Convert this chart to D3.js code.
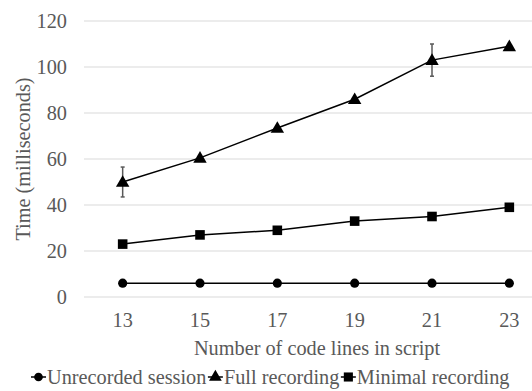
<!DOCTYPE html>
<html>
<head>
<meta charset="utf-8">
<script src="https://cdn.jsdelivr.net/npm/d3@7"></script>
<style>
  html, body { margin: 0; padding: 0; background: #fff; }
  svg { display: block; }
</style>
</head>
<body>
<div id="chart"></div>
<script>
// Script size (code lines) on the x axis
const categories = ["13", "15", "17", "19", "21", "23"];
// Mean time per run, milliseconds
const unrecorded = [6, 6, 6, 6, 6, 6];
const fullRecording = [50, 60.5, 73.5, 86, 103, 109];
const minimalRecording = [23, 27, 29, 33, 35, 39];
// Error bar half-widths for the full recording series (null = none drawn)
const fullError = [6.5, null, null, null, 7, null];
const yTicks = [0, 20, 40, 60, 80, 100, 120];

const W = 532, H = 391;
const gray = "#595959";
const FONT = "'Liberation Serif', 'Times New Roman', serif";
const FS = "20.3px";

const svg = d3.select("#chart").append("svg")
  .attr("width", W).attr("height", H);

const x = d3.scaleBand().domain(categories).range([84, 548]);
const y = d3.scaleLinear().domain([0, 120]).range([297, 21]);

const styleText = sel => sel.attr("fill", gray)
  .style("font-family", FONT).style("font-size", FS);

// Horizontal gridlines
svg.append("g").selectAll("line").data(yTicks).join("line")
  .attr("x1", 84).attr("x2", W)
  .attr("y1", d => y(d)).attr("y2", d => y(d))
  .attr("stroke", "#d9d9d9").attr("stroke-width", 1);

// Y axis labels
const yAxis = svg.append("g").attr("transform", "translate(67,0)")
  .call(d3.axisLeft(y).tickValues(yTicks).tickSize(0).tickPadding(0));
yAxis.select(".domain").remove();
yAxis.selectAll("text").call(styleText);

// X axis labels
const xAxis = svg.append("g").attr("transform", "translate(0,313)")
  .call(d3.axisBottom(x).tickSize(0).tickPadding(0));
xAxis.select(".domain").remove();
xAxis.selectAll("text").call(styleText);

// Axis titles
svg.append("text")
  .attr("x", 317).attr("y", 355)
  .attr("text-anchor", "middle").call(styleText)
  .text("Number of code lines in script");
svg.append("text")
  .attr("transform", "translate(30,159) rotate(-90)")
  .attr("text-anchor", "middle").call(styleText)
  .text("Time (milliseconds)");

const cx = d => x(d) + x.bandwidth() / 2;
const line = d3.line().x(d => cx(d.c)).y(d => y(d.v));
const rows = vals => categories.map((c, i) => ({ c, v: vals[i] }));

// Error bars on the full recording series
const errRows = categories.map((c, i) => ({ c, v: fullRecording[i], e: fullError[i] }))
  .filter(d => d.e != null);
const eb = svg.append("g").attr("stroke", gray).attr("stroke-width", 1.5);
errRows.forEach(d => {
  const xx = cx(d.c);
  eb.append("line").attr("x1", xx).attr("x2", xx)
    .attr("y1", y(d.v + d.e)).attr("y2", y(d.v - d.e));
  [d.v + d.e, d.v - d.e].forEach(v => {
    eb.append("line").attr("x1", xx - 2).attr("x2", xx + 2)
      .attr("y1", y(v)).attr("y2", y(v));
  });
});

const series = [
  { name: "Unrecorded session", vals: unrecorded, shape: d3.symbolCircle, size: 66 },
  { name: "Full recording", vals: fullRecording, shape: d3.symbolTriangle, size: 78 },
  { name: "Minimal recording", vals: minimalRecording, shape: d3.symbolSquare, size: 92 }
];

series.forEach(s => {
  const data = rows(s.vals);
  svg.append("path").datum(data)
    .attr("d", line).attr("fill", "none")
    .attr("stroke", "#000").attr("stroke-width", 1.5);
  svg.append("g").selectAll("path").data(data).join("path")
    .attr("transform", d => `translate(${cx(d.c)},${y(d.v) + (s.shape === d3.symbolTriangle ? 1 : 0)})`)
    .attr("d", d3.symbol().type(s.shape).size(s.size))
    .attr("fill", "#000");
});

// Legend
const legend = svg.append("g").attr("transform", "translate(0,377)");
let lx = 31;
series.forEach(s => {
  const g = legend.append("g").attr("transform", `translate(${lx},0)`);
  g.append("line").attr("x1", 0).attr("x2", 15).attr("y1", 0).attr("y2", 0)
    .attr("stroke", "#000").attr("stroke-width", 1.5);
  g.append("path").attr("transform", "translate(7.5,0)")
    .attr("d", d3.symbol().type(s.shape).size(s.size * 0.9)).attr("fill", "#000");
  const t = g.append("text").attr("x", 16).attr("y", 7)
    .call(styleText).text(s.name);
  lx += 16 + t.node().getComputedTextLength() + 1.5;
});
</script>
</body>
</html>
